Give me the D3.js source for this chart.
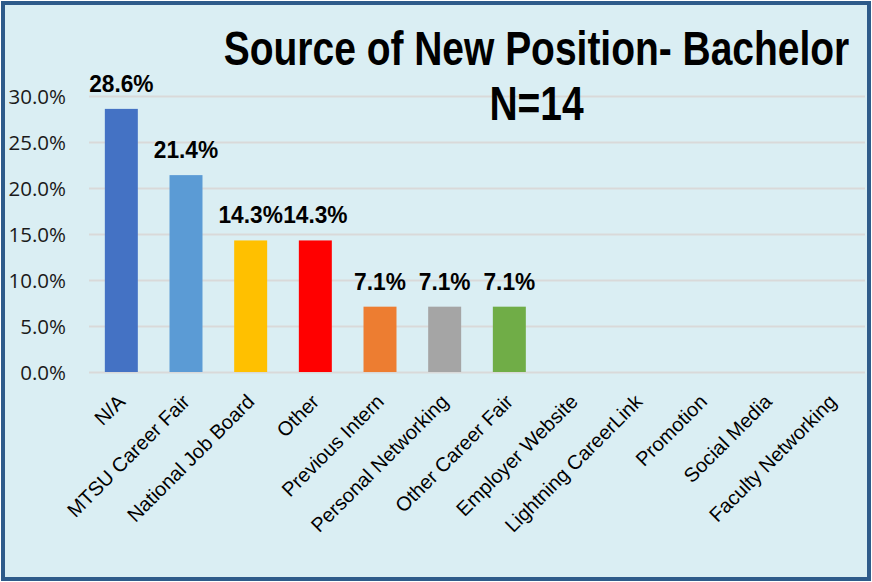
<!DOCTYPE html>
<html>
<head>
<meta charset="utf-8">
<script src="https://cdn.jsdelivr.net/npm/d3@7"></script>
<style>
  html, body { margin: 0; padding: 0; background: #fff; }
  svg { display: block; }
</style>
</head>
<body>
<svg id="chart" width="872" height="582"></svg>
<script>
// chart data
const categories = ["N/A", "MTSU Career Fair", "National Job Board", "Other", "Previous Intern",
    "Personal Networking", "Other Career Fair", "Employer Website", "Lightning CareerLink",
    "Promotion", "Social Media", "Faculty Networking"];
const values = [0.286, 0.214, 0.143, 0.143, 0.071, 0.071, 0.071, 0, 0, 0, 0, 0];
const barColours = ["#4472C4", "#5B9BD5", "#FFC000", "#FF0000", "#ED7D31", "#A5A5A5",
    "#70AD47", "#264478", "#9E480E", "#636363", "#997300", "#255E91"];
const yTicks = [0, 0.05, 0.10, 0.15, 0.20, 0.25, 0.30];
const titleLines = ["Source of New Position- Bachelor", "N=14"];

const svg = d3.select("#chart");
const W = 872, H = 582;

// squeeze a bold Arial-like text into a narrow face (no Arial Narrow available)
function narrow(sel, factor) {
    sel.each(function () {
        const len = this.getComputedTextLength();
        d3.select(this)
            .attr("textLength", len * factor)
            .attr("lengthAdjust", "spacingAndGlyphs");
    });
}

// frame
svg.append("rect")
    .attr("x", 3).attr("y", 3)
    .attr("width", W - 6).attr("height", H - 6)
    .style("fill", "#DAEEF3")
    .style("stroke", "#2E5B8A")
    .style("stroke-width", "4px");

const x = d3.scaleBand()
    .domain(categories)
    .range([89, 865])
    .paddingInner(0.49)
    .paddingOuter(0.245);

const y = d3.scaleLinear()
    .domain([0, 0.30])
    .range([372, 96]);

// gridlines + y labels
const yAxis = d3.axisLeft(y)
    .tickValues(yTicks)
    .tickSize(-(865 - 89))
    .tickPadding(23)
    .tickFormat(d3.format(".1%"));

svg.append("g")
    .attr("transform", "translate(89,0)")
    .call(yAxis)
    .call(g => g.select(".domain").remove())
    .call(g => g.selectAll(".tick line")
        .style("stroke", "#D9D9D9")
        .style("stroke-width", "2px"))
    .call(g => g.selectAll(".tick text")
        .attr("dy", "0.35em")
        .style("font-family", "'Open Sans', sans-serif")
        .style("font-size", "20.5px")
        .style("fill", "#1a1a1a"));

// bars
svg.append("g")
    .selectAll("rect")
    .data(values)
  .enter()
  .append("rect")
    .attr("x", (d, i) => x(categories[i]))
    .attr("y", d => y(d))
    .attr("width", x.bandwidth())
    .attr("height", d => y(0) - y(d))
    .style("fill", (d, i) => barColours[i]);

// data labels (non-zero only)
svg.append("g")
    .selectAll("text")
    .data(values.map((v, i) => ({ v: v, c: categories[i] })).filter(d => d.v > 0))
  .enter()
  .append("text")
    .attr("x", d => x(d.c) + x.bandwidth() / 2)
    .attr("y", d => y(d.v) - 17)
    .attr("text-anchor", "middle")
    .style("font-family", "'Liberation Sans', Arial, sans-serif")
    .style("font-weight", "bold")
    .style("font-size", "24.7px")
    .style("fill", "#000")
    .text(d => d3.format(".1%")(d.v))
    .call(narrow, 0.92);

// category labels
svg.append("g")
    .selectAll("text")
    .data(categories)
  .enter()
  .append("text")
    .attr("transform", d => "translate(" + (x(d) + x.bandwidth() / 2 + 5) + ",403) rotate(-45)")
    .attr("text-anchor", "end")
    .style("font-family", "'Liberation Sans', Arial, sans-serif")
    .style("font-size", "20px")
    .style("fill", "#000")
    .text(d => d);

// title
svg.append("g")
    .selectAll("text")
    .data(titleLines)
  .enter()
  .append("text")
    .attr("x", 536.5)
    .attr("y", (d, i) => 65 + i * 55)
    .attr("text-anchor", "middle")
    .style("font-family", "'Liberation Sans', Arial, sans-serif")
    .style("font-weight", "bold")
    .style("font-size", "47.5px")
    .style("fill", "#000")
    .text(d => d)
    .call(narrow, 0.82);
</script>
</body>
</html>
